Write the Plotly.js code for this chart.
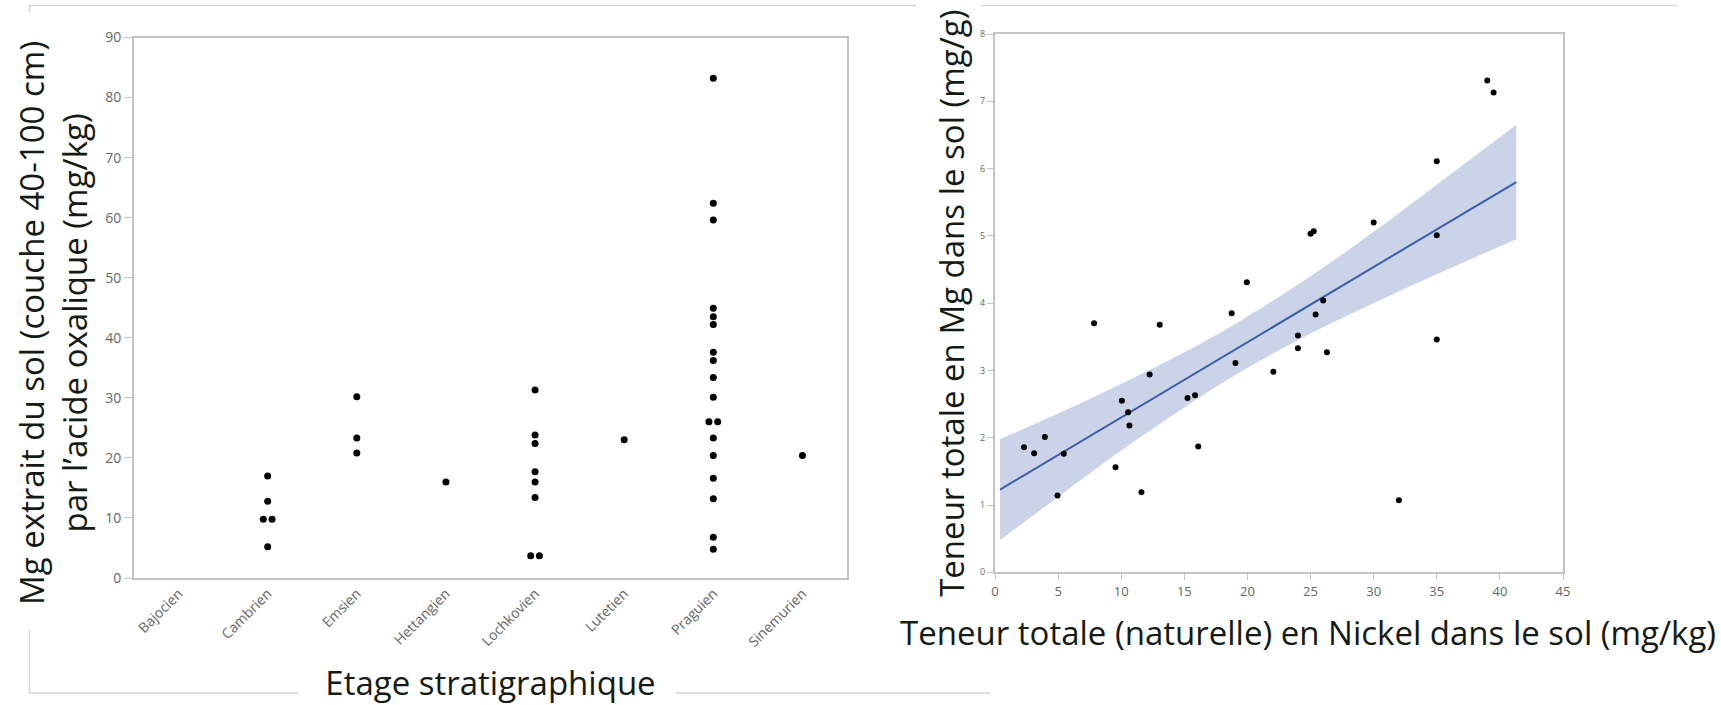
<!DOCTYPE html>
<html><head><meta charset="utf-8">
<script src="https://cdn.plot.ly/plotly-3.0.1.min.js"></script>
<style>html,body{margin:0;padding:0;background:#fff;} #chart{width:1721px;height:705px;}</style>
</head><body><div id="chart"></div>
<script>
// ---- Left chart data: Mg extracted by oxalic acid per stratigraphic stage ----
const stages = ["Bajocien","Cambrien","Emsien","Hettangien","Lochkovien","Lutetien","Praguien","Sinemurien"];
const mgBajocien   = [];
const mgCambrien   = [17.0, 12.8, 9.8, 9.8, 5.2];
const mgEmsien     = [30.2, 23.3, 20.8];
const mgHettangien = [16.0];
const mgLochkovien = [31.3, 23.8, 22.4, 17.7, 16.0, 13.4, 3.7, 3.7];
const mgLutetien   = [23.0];
const mgPraguien   = [83.2, 62.4, 59.6, 44.9, 43.5, 42.2, 37.6, 36.2, 33.4, 30.1, 26.0, 26.0, 23.3, 20.4, 16.6, 13.2, 6.8, 4.8];
const mgSinemurien = [20.4];
const yTicksLeft = [0,10,20,30,40,50,60,70,80,90];

// ---- Right chart data: total Ni vs total Mg ----
const nickel  = [2.3, 3.1, 3.95, 4.95, 5.45, 7.85, 9.55, 10.05, 10.55, 10.65, 11.6, 12.25, 13.05, 15.25, 15.85, 16.1, 18.75, 19.05, 19.95, 22.05, 24.0, 24.0, 25.0, 25.25, 25.4, 26.0, 26.3, 30.0, 32.0, 35.0, 35.0, 35.0, 39.0, 39.5];
const mgTotal = [1.86, 1.77, 2.01, 1.14, 1.76, 3.70, 1.56, 2.55, 2.38, 2.18, 1.19, 2.94, 3.68, 2.59, 2.63, 1.87, 3.85, 3.11, 4.31, 2.98, 3.52, 3.33, 5.03, 5.07, 3.83, 4.04, 3.27, 5.20, 1.07, 6.11, 5.01, 3.46, 7.31, 7.13];
const fitX = [0.4, 41.3];
const fitY = [1.23, 5.80];
const bandX     = [0.4, 5, 10, 15, 19.2, 25, 30, 35, 41.3];
const bandUpper = [1.98, 2.36, 2.80, 3.27, 3.71, 4.40, 5.06, 5.76, 6.65];
const bandLower = [0.48, 1.12, 1.81, 2.45, 2.95, 3.55, 4.00, 4.43, 4.95];

const titleLeftY  = 'Mg extrait du sol (couche 40-100 cm)<br>par l’acide oxalique (mg/kg)';
const titleLeftX  = 'Etage stratigraphique';
const titleRightX = 'Teneur totale (naturelle) en Nickel dans le sol (mg/kg)';
const titleRightY = 'Teneur totale en Mg dans le sol (mg/g)';

const W = 1721, H = 705;
const X = v => v / W, Y = v => 1 - v / H;

// build left points: category index, tied values placed side by side
const groups = [mgBajocien, mgCambrien, mgEmsien, mgHettangien, mgLochkovien, mgLutetien, mgPraguien, mgSinemurien];
const lx = [], ly = [];
groups.forEach((vals, i) => {
  const seen = {};
  vals.forEach(v => { seen[v] = (seen[v] || 0) + 1; });
  const used = {};
  vals.forEach(v => {
    const k = seen[v], j = used[v] || 0; used[v] = j + 1;
    lx.push(i + (j - (k - 1) / 2) * 0.098);
    ly.push(v);
  });
});

const traces = [
  {type:'scatter', mode:'markers', x:lx, y:ly, xaxis:'x', yaxis:'y',
   marker:{color:'#000', size:7}, hoverinfo:'y'},
  {type:'scatter', mode:'lines', x:bandX, y:bandLower, xaxis:'x2', yaxis:'y2',
   line:{width:0, shape:'spline'}, hoverinfo:'skip'},
  {type:'scatter', mode:'lines', x:bandX, y:bandUpper, xaxis:'x2', yaxis:'y2',
   fill:'tonexty', fillcolor:'rgba(198,207,229,0.92)', line:{width:0, shape:'spline'}, hoverinfo:'skip'},
  {type:'scatter', mode:'lines', x:fitX, y:fitY, xaxis:'x2', yaxis:'y2',
   line:{color:'#3c5daa', width:2}, hoverinfo:'skip'},
  {type:'scatter', mode:'markers', x:nickel, y:mgTotal, xaxis:'x2', yaxis:'y2',
   marker:{color:'#000', size:6}}
];

const frame = '#c4c4c4';
const titleFont = {family:'Open Sans, sans-serif', size:33, color:'#141a14'};
const deco = '#d6d6d6';
const seg = (x0,y0,x1,y1) => ({type:'line', xref:'paper', yref:'paper', x0:X(x0), y0:Y(y0), x1:X(x1), y1:Y(y1), line:{color:deco, width:1.5}});

const layout = {
  width:W, height:H, margin:{l:0,r:0,t:0,b:0}, showlegend:false,
  paper_bgcolor:'#fff', plot_bgcolor:'#fff',
  font:{family:'Open Sans, sans-serif', color:'#666'},
  xaxis:{domain:[X(134), X(847)], range:[-0.5, 7.5], tickvals:stages.map((s,i)=>i), ticktext:stages,
    tickangle:-45, tickfont:{size:14, color:'#666'}, showline:true, linecolor:frame, linewidth:2, mirror:true,
    showgrid:false, zeroline:false, ticks:'',
    title:{text:titleLeftX, font:titleFont, standoff:32}},
  yaxis:{domain:[Y(578), Y(37.5)], range:[0, 90], tickvals:yTicksLeft, ticks:'outside', ticklen:8, tickcolor:frame,
    tickfont:{size:14, color:'#666'}, showline:true, linecolor:frame, linewidth:2, mirror:true,
    showgrid:false, zeroline:false},
  xaxis2:{domain:[X(995), X(1563)], range:[0, 45], dtick:5, ticks:'outside', ticklen:6, tickcolor:frame,
    tickfont:{size:13, color:'#666'}, showline:true, linecolor:frame, linewidth:2, mirror:true,
    showgrid:false, zeroline:false, anchor:'y2'},
  yaxis2:{domain:[Y(572.3), Y(34)], range:[0, 8], dtick:1, ticks:'outside', ticklen:6, tickcolor:frame,
    tickfont:{size:9, color:'#666'}, showline:true, linecolor:frame, linewidth:2, mirror:true,
    showgrid:false, zeroline:false, anchor:'x2',
    title:{text:titleRightY, font:titleFont, standoff:5}},
  annotations:[
    {text:titleLeftY, xref:'paper', yref:'paper', x:X(53), y:Y(323), xanchor:'center', yanchor:'middle',
     textangle:-90, showarrow:false, font:titleFont},
    {text:titleRightX, xref:'paper', yref:'paper', x:X(1308), y:Y(632), xanchor:'center', yanchor:'middle',
     showarrow:false, font:titleFont}
  ],
  shapes:[
    seg(29,5.5,916,5.5), seg(981,5.5,1677,5.5), seg(29.5,5.5,29.5,12),
    seg(29.5,630,29.5,693), seg(29,693,298,693), seg(676,693,990,693)
  ]
};

Plotly.newPlot('chart', traces, layout, {displayModeBar:false, staticPlot:true});
</script>
</body></html>
